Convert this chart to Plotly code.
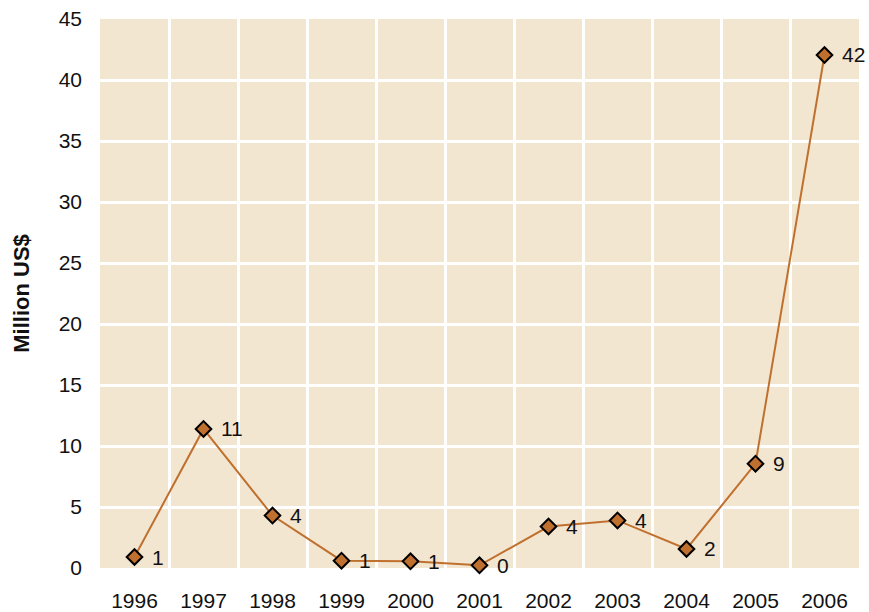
import plotly.graph_objects as go

years = ["1996", "1997", "1998", "1999", "2000", "2001", "2002", "2003", "2004", "2005", "2006"]
values = [0.9, 11.4, 4.3, 0.6, 0.55, 0.22, 3.4, 3.9, 1.56, 8.55, 42.05]
labels = ["1", "11", "4", "1", "1", "0", "4", "4", "2", "9", "42"]
y_ticks = [0, 5, 10, 15, 20, 25, 30, 35, 40, 45]

font_family = "Liberation Sans, Arial, sans-serif"
fs = 21

fig = go.Figure()
fig.add_trace(go.Scatter(
    x=years, y=values,
    mode="lines+markers",
    line=dict(color="#C0702E", width=2),
    marker=dict(symbol="diamond", size=12, color="#C0702E",
                line=dict(color="#000000", width=2)),
    cliponaxis=False,
    showlegend=False,
))

# on a category axis, annotation x is the category's serial index
for i, (v, t) in enumerate(zip(values, labels)):
    fig.add_annotation(
        x=i, y=v, text=t, showarrow=False,
        xanchor="left", yanchor="middle", xshift=15,
        font=dict(family=font_family, size=fs, color="#111111"),
    )

fig.update_layout(
    width=869, height=612,
    margin=dict(l=100, r=10, t=19, b=44),
    paper_bgcolor="white",
    plot_bgcolor="#F3E6D1",
    font=dict(family=font_family, size=fs, color="#111111"),
    xaxis=dict(
        type="category",
        tickson="boundaries",
        showgrid=True, gridcolor="white", gridwidth=2.5,
        ticks="", zeroline=False, showline=False,
        ticklabelstandoff=18,
        tickfont=dict(size=fs),
        range=[-0.5, 10.5],
        automargin=False,
        ticklabeloverflow="allow",
    ),
    yaxis=dict(
        range=[0, 45],
        tickvals=y_ticks,
        showgrid=True, gridcolor="white", gridwidth=2.5,
        zeroline=False, showline=False, ticks="",
        ticklabelstandoff=17,
        tickfont=dict(size=fs),
        title=dict(text="<b>Million US$</b>", font=dict(size=22), standoff=22),
        automargin=False,
        ticklabeloverflow="allow",
    ),
)

# remove the page's default 8px body margin so the figure fills the window exactly
fig.write_html(
    "out.html",
    config={"displayModeBar": False},
    post_script="document.body.style.margin='0';document.body.style.overflow='hidden';",
)
